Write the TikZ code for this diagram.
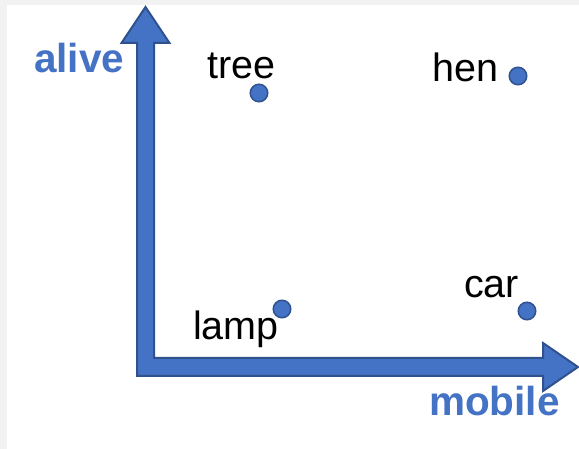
\documentclass[tikz,border=0pt]{standalone}
\usepackage{fontspec}
\setmainfont{Liberation Sans}
\definecolor{axisfill}{HTML}{4472C4}
\definecolor{axisedge}{HTML}{2F528F}
\definecolor{frame}{HTML}{F2F2F2}
\begin{document}
\begin{tikzpicture}[x=1pt,y=-1pt,
  axislabel/.style={text=axisfill,font=\fontsize{40.5}{42}\selectfont\bfseries,inner sep=0pt,anchor=base west},
  itemlabel/.style={text=black,font=\fontsize{39.5}{42}\selectfont,inner sep=0pt,anchor=base west},
  itemdot/.style={circle,fill=axisfill,draw=axisedge,line width=1.5pt,minimum size=17.5pt,inner sep=0pt}]
  % canvas with a thin grey frame on the top and left
  \fill[frame] (0,0) rectangle (579,449);
  \fill[white] (7,5) rectangle (579,449);
  \useasboundingbox (0,0) rectangle (579,449);

  % L-shaped block arrow forming both axes
  \draw[fill=axisfill,draw=axisedge,line width=2pt,line join=miter]
    (137,376) -- (137,43) -- (121.5,43) -- (145.5,7) -- (169.5,43) -- (154,43)
    -- (154,358) -- (543,358) -- (543,343) -- (578,367) -- (543,391) -- (543,376) -- cycle;

  % axis labels
  \node[axislabel] (alive) at (34,73) {alive};
  \node[axislabel] (mobile) at (429,415) {mobile};

  % items placed on the chart
  \node[itemdot] (treedot) at (259,93) {};
  \node[itemlabel] (tree) at (207,79) {tree};
  \node[itemdot] (hendot) at (518,76) {};
  \node[itemlabel] (hen) at (432,82) {hen};
  \node[itemdot] (lampdot) at (282,309) {};
  \node[itemlabel] (lamp) at (193,340) {lamp};
  \node[itemdot] (cardot) at (527,311) {};
  \node[itemlabel] (car) at (464,298) {car};
\end{tikzpicture}
\end{document}
